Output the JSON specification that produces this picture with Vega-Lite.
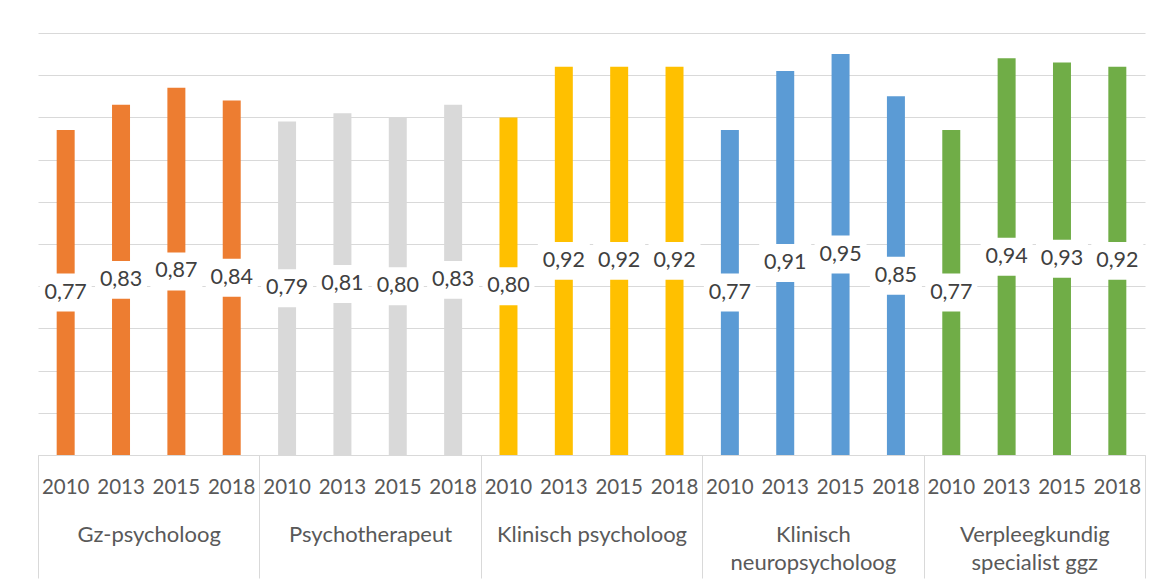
{
  "$schema": "https://vega.github.io/schema/vega-lite/v6.json",
  "width": 1107,
  "height": 422,
  "autosize": {"type": "none"},
  "padding": {"left": 38, "top": 33, "right": 20, "bottom": 130},
  "background": "white",
  "config": {
    "view": {"stroke": null},
    "font": "Lato",
    "locale": {"number": {"decimal": ",", "thousands": ".", "grouping": [3], "currency": ["€", ""]}}
  },
  "data": {
    "values": [
      {"group": "Gz-psycholoog", "year": "2010", "value": 0.77},
      {"group": "Gz-psycholoog", "year": "2013", "value": 0.83},
      {"group": "Gz-psycholoog", "year": "2015", "value": 0.87},
      {"group": "Gz-psycholoog", "year": "2018", "value": 0.84},
      {"group": "Psychotherapeut", "year": "2010", "value": 0.79},
      {"group": "Psychotherapeut", "year": "2013", "value": 0.81},
      {"group": "Psychotherapeut", "year": "2015", "value": 0.80},
      {"group": "Psychotherapeut", "year": "2018", "value": 0.83},
      {"group": "Klinisch psycholoog", "year": "2010", "value": 0.80},
      {"group": "Klinisch psycholoog", "year": "2013", "value": 0.92},
      {"group": "Klinisch psycholoog", "year": "2015", "value": 0.92},
      {"group": "Klinisch psycholoog", "year": "2018", "value": 0.92},
      {"group": "Klinisch neuropsycholoog", "year": "2010", "value": 0.77},
      {"group": "Klinisch neuropsycholoog", "year": "2013", "value": 0.91},
      {"group": "Klinisch neuropsycholoog", "year": "2015", "value": 0.95},
      {"group": "Klinisch neuropsycholoog", "year": "2018", "value": 0.85},
      {"group": "Verpleegkundig specialist ggz", "year": "2010", "value": 0.77},
      {"group": "Verpleegkundig specialist ggz", "year": "2013", "value": 0.94},
      {"group": "Verpleegkundig specialist ggz", "year": "2015", "value": 0.93},
      {"group": "Verpleegkundig specialist ggz", "year": "2018", "value": 0.92}
    ]
  },
  "encoding": {
    "x": {
      "field": "group",
      "type": "nominal",
      "sort": null,
      "scale": {"paddingInner": 0, "paddingOuter": 0},
      "axis": {
        "title": null,
        "domainColor": "#d9d9d9",
        "domainWidth": 1,
        "tickBand": "extent",
        "tickSize": 123,
        "tickColor": "#d9d9d9",
        "tickWidth": 1,
        "labelPadding": -54,
        "labelBaseline": "top",
        "labelFontSize": 22,
        "labelColor": "#595959",
        "labelFont": "Lato",
        "labelLineHeight": 28,
        "labelLimit": 400,
        "labelOverlap": false,
        "labelAngle": 0,
        "labelExpr": "datum.label == 'Klinisch neuropsycholoog' ? ['Klinisch', 'neuropsycholoog'] : datum.label == 'Verpleegkundig specialist ggz' ? ['Verpleegkundig', 'specialist ggz'] : datum.label"
      }
    },
    "xOffset": {
      "field": "year",
      "type": "nominal",
      "sort": null,
      "scale": {"paddingInner": 0.675, "paddingOuter": 0.3375}
    }
  },
  "layer": [
    {
      "mark": {"type": "bar"},
      "encoding": {
        "y": {
          "field": "value",
          "type": "quantitative",
          "scale": {"domain": [0, 1], "nice": false},
          "axis": {
            "title": null,
            "labels": false,
            "ticks": false,
            "domain": false,
            "grid": true,
            "gridColor": "#d9d9d9",
            "gridWidth": 1.2,
            "values": [0, 0.1, 0.2, 0.3, 0.4, 0.5, 0.6, 0.7, 0.8, 0.9, 1]
          }
        },
        "color": {
          "field": "group",
          "type": "nominal",
          "sort": null,
          "scale": {
            "domain": ["Gz-psycholoog", "Psychotherapeut", "Klinisch psycholoog", "Klinisch neuropsycholoog", "Verpleegkundig specialist ggz"],
            "range": ["#ED7D31", "#D9D9D9", "#FFC000", "#5B9BD5", "#70AD47"]
          },
          "legend": null
        }
      }
    },
    {
      "mark": {"type": "point", "shape": "M-1,-0.73H1V0.73H-1Z", "filled": true, "color": "white", "size": 2704, "opacity": 1, "strokeWidth": 0},
      "encoding": {
        "y": {"field": "value", "type": "quantitative", "scale": {"domain": [0, 2], "nice": false}, "axis": null}
      }
    },
    {
      "mark": {"type": "text", "fontSize": 21.5, "color": "#404040", "baseline": "middle", "align": "center", "font": "Lato"},
      "encoding": {
        "y": {"field": "value", "type": "quantitative", "scale": {"domain": [0, 2], "nice": false}, "axis": null},
        "text": {"field": "value", "type": "quantitative", "format": ".2f"}
      }
    },
    {
      "mark": {"type": "text", "fontSize": 20.5, "color": "#595959", "baseline": "middle", "align": "center", "dy": 33, "font": "Lato"},
      "encoding": {
        "y": {"datum": 0, "type": "quantitative", "scale": {"domain": [0, 1], "nice": false}, "axis": null},
        "text": {"field": "year", "type": "nominal"}
      }
    }
  ],
  "resolve": {"scale": {"y": "independent"}}
}
